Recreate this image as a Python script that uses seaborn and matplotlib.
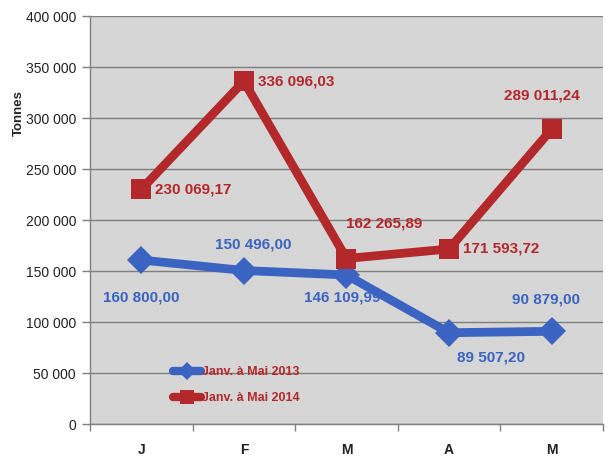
import matplotlib
matplotlib.use("Agg")
import matplotlib.pyplot as plt
import seaborn as sns
import pandas as pd
from matplotlib.lines import Line2D

months = ["J", "F", "M", "A", "M"]
series_names = ["Janv. à Mai 2013", "Janv. à Mai 2014"]
values_2013 = [160800.00, 150496.00, 146109.99, 89507.20, 90879.00]
values_2014 = [230069.17, 336096.03, 162265.89, 171593.72, 289011.24]
y_ticks = [0, 50000, 100000, 150000, 200000, 250000, 300000, 350000, 400000]

BLUE = "#3b63c1"
RED = "#b3282a"
BG = "#d6d6d6"
AXIS = "#7f7f7f"

def fr_num(v, dec=2):
    s = f"{v:,.{dec}f}"
    return s.replace(",", " ").replace(".", ",")

df = pd.DataFrame({
    "pos": list(range(len(months))) * 2,
    "val": values_2013 + values_2014,
    "serie": [series_names[0]] * 5 + [series_names[1]] * 5,
})

sns.set_style("white")
plt.rcParams["font.family"] = ["Liberation Sans", "DejaVu Sans"]
plt.rcParams["xtick.bottom"] = True
plt.rcParams["ytick.left"] = True

fig = plt.figure(figsize=(6.10, 4.63), dpi=100)
ax = fig.add_axes([0.1475, 0.0842, 0.841, 0.8812])
ax.set_facecolor(BG)

sns.lineplot(data=df, x="pos", y="val", hue="serie", style="serie",
             palette=[BLUE, RED], markers=["D", "s"], dashes=False,
             linewidth=6.3, markersize=13, markeredgewidth=0, ax=ax,
             legend=False, zorder=3)
for ln, ms in zip(ax.get_lines(), [14, 15]):
    ln.set_markersize(ms)
    ln.set_solid_joinstyle("miter")

ax.set_xlim(-0.5, 4.5)
ax.set_ylim(0, 400000)
ax.set_yticks(y_ticks)
ax.set_yticklabels([fr_num(v, 0) for v in y_ticks], fontsize=10, color="#222222")
ax.grid(axis="y", color=AXIS, linewidth=1)
ax.set_axisbelow(True)

ax.set_xticks(range(len(months)))
ax.set_xticklabels(months, fontsize=10, fontweight="bold", color="#222222")
ax.set_xticks([i - 0.5 for i in range(len(months) + 1)], minor=True)
ax.tick_params(axis="x", which="major", length=0, pad=14)
ax.tick_params(axis="x", which="minor", bottom=True, length=5, width=1,
               color=AXIS, direction="out")
ax.tick_params(axis="y", which="major", left=True, length=6, width=1,
               color=AXIS, direction="out", pad=4)
ax.set_xlabel("")
ax.set_ylabel("")
for side in ["top", "right"]:
    ax.spines[side].set_visible(False)
for side in ["left", "bottom"]:
    ax.spines[side].set_color(AXIS)
    ax.spines[side].set_linewidth(1)

fig.text(0.031, 0.755, "Tonnes", rotation=90, fontsize=9.5, fontweight="bold",
         ha="center", va="center")

lbl_kw = dict(fontsize=11, fontweight="bold", textcoords="offset points")
# label offsets (points) and alignment for each data point
off_2013 = [(0, -27, "center"), (7, 19, "center"), (-3, -16, "center"),
            (30, -18, "center"), (-4, 23, "center")]
off_2014 = [(10, 0, "left"), (10, 0, "left"), (0, 25, "left"),
            (10, 0, "left"), (-7, 24, "center")]
for i, v in enumerate(values_2013):
    dx, dy, ha = off_2013[i]
    ax.annotate(fr_num(v), (i, v), xytext=(dx, dy), ha=ha, va="center",
                color=BLUE, **lbl_kw)
for i, v in enumerate(values_2014):
    dx, dy, ha = off_2014[i]
    ax.annotate(fr_num(v), (i, v), xytext=(dx, dy), ha=ha, va="center",
                color=RED, **lbl_kw)

handles = [Line2D([], [], color=BLUE, lw=6, marker="D", ms=9, mew=0),
           Line2D([], [], color=RED, lw=6, marker="s", ms=10, mew=0)]
leg = ax.legend(handles, series_names, loc="upper left",
                bbox_to_anchor=(0.14, 0.17), frameon=False, handlelength=2.2,
                handletextpad=0.1, labelspacing=1.15,
                prop={"weight": "bold", "size": 9})
for t in leg.get_texts():
    t.set_color(RED)

fig.savefig("out.png", dpi=100, facecolor="white")
